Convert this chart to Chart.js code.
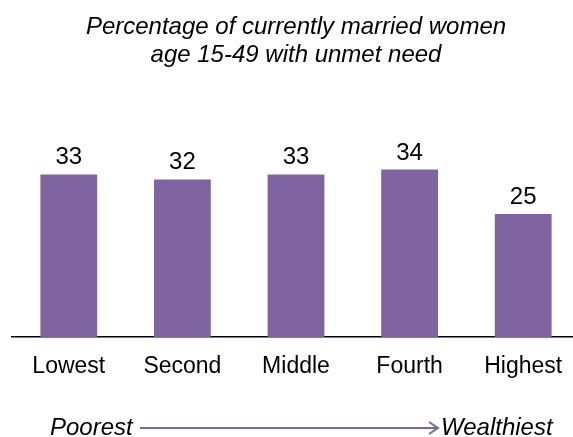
<!DOCTYPE html>
<html>
<head>
<meta charset="utf-8">
<script src="https://cdn.jsdelivr.net/npm/chart.js@4"></script>
<style>
	html, body { margin: 0; padding: 0; background: #fff; overflow: hidden; }
	#wrap { width: 580px; height: 437px; }
</style>
</head>
<body>
<div id="wrap"><canvas id="unmetChart" width="580" height="437"></canvas></div>
<script>
const quintiles = ['Lowest', 'Second', 'Middle', 'Fourth', 'Highest'];
const unmetNeed = [33, 32, 33, 34, 25];
const titleLines = ['Percentage of currently married women', 'age 15-49 with unmet need'];
const arrowLabels = ['Poorest', 'Wealthiest'];

const FONT = "Arial, 'Liberation Sans', sans-serif";
const PURPLE = '#8064A2';

// numbers above each bar
const barValues = {
	id: 'barValues',
	afterDatasetsDraw(chart) {
		const ctx = chart.ctx;
		const meta = chart.getDatasetMeta(0);
		ctx.save();
		ctx.font = '24px ' + FONT;
		ctx.fillStyle = '#000';
		ctx.textAlign = 'center';
		ctx.textBaseline = 'alphabetic';
		meta.data.forEach((bar, i) => {
			ctx.fillText(unmetNeed[i], bar.x, bar.y - 10);
		});
		ctx.restore();
	},
};

// "Poorest ---> Wealthiest" under the axis
const wealthArrow = {
	id: 'wealthArrow',
	afterDraw(chart) {
		const ctx = chart.ctx;
		const y = 428;
		ctx.save();
		ctx.font = 'italic 24px ' + FONT;
		ctx.fillStyle = '#000';
		ctx.textBaseline = 'middle';
		ctx.textAlign = 'left';
		ctx.fillText(arrowLabels[0], 50, y);
		ctx.fillText(arrowLabels[1], 441, y);

		ctx.strokeStyle = PURPLE;
		ctx.lineWidth = 2;
		ctx.beginPath();
		ctx.moveTo(140, y);
		ctx.lineTo(437, y);
		ctx.stroke();
		ctx.beginPath();
		ctx.moveTo(429, y - 6);
		ctx.lineTo(438, y);
		ctx.lineTo(429, y + 6);
		ctx.stroke();
		ctx.restore();
	},
};

new Chart(document.getElementById('unmetChart'), {
	type: 'bar',
	data: {
		labels: quintiles,
		datasets: [{
			data: unmetNeed,
			backgroundColor: PURPLE,
			barPercentage: 0.5,
			categoryPercentage: 1,
		}],
	},
	options: {
		responsive: false,
		animation: false,
		layout: { padding: { left: 12, right: 0, top: 0, bottom: 0 } },
		plugins: {
			legend: { display: false },
			tooltip: { enabled: false },
			title: {
				display: true,
				text: titleLines,
				color: '#000',
				font: { family: FONT, size: 24, style: 'italic', weight: 'normal', lineHeight: 1.1667 },
				padding: { top: 13, bottom: 71 },
			},
		},
		scales: {
			x: {
				grid: { display: false, drawTicks: false },
				border: { display: true, color: '#000', width: 1.5 },
				ticks: {
					color: '#000',
					font: { family: FONT, size: 23 },
					padding: 16,
					maxRotation: 0,
				},
				afterFit(scale) { scale.height = 100; },
			},
			y: {
				display: false,
				min: 0,
				max: 40,
			},
		},
	},
	plugins: [barValues, wealthArrow],
});
</script>
</body>
</html>
